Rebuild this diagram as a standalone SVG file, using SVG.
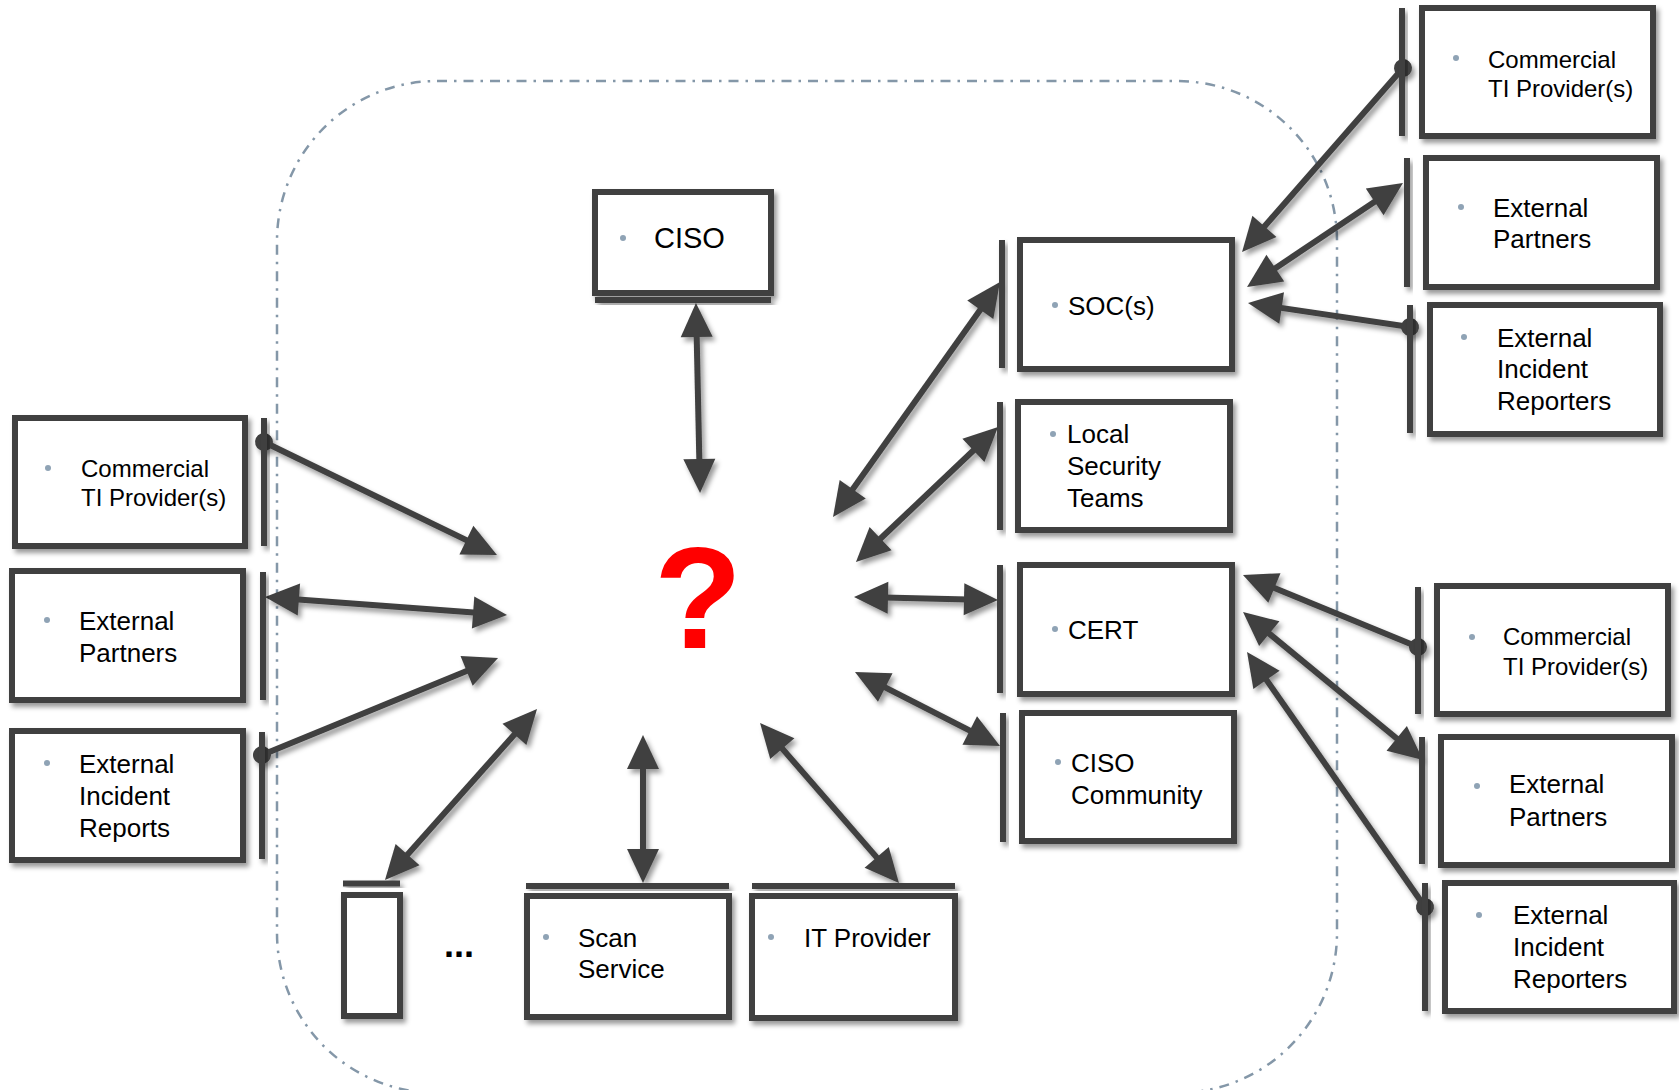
<svg xmlns="http://www.w3.org/2000/svg" width="1679" height="1090" viewBox="0 0 1679 1090">
  <style>
    .box { fill: #ffffff; stroke: #404040; stroke-width: 6; filter: url(#sh); }
    .bar { fill: #404040; filter: url(#sh); }
    .bul { fill: #8fa3b5; }
    .t { font-family: "Liberation Sans", Arial, sans-serif; font-size: 26px; fill: #000000; }
    .ts { font-size: 24px; }
    .tl { font-size: 29px; }
    .ln { fill: none; stroke: #404040; stroke-width: 6; }
    .two { marker-start: url(#head); marker-end: url(#head); }
    .one { marker-start: url(#dot); marker-end: url(#head); }
  </style>
  <defs>
    <filter id="sh" x="-50%" y="-20%" width="200%" height="140%">
      <feDropShadow dx="3" dy="4" stdDeviation="2.5" flood-color="#000000" flood-opacity="0.4"/>
    </filter>
    <marker id="head" markerUnits="userSpaceOnUse" markerWidth="34" markerHeight="32" refX="4" refY="16" orient="auto-start-reverse" overflow="visible">
      <path d="M0,0 L34,16 L0,32 Z" fill="#404040"/>
    </marker>
    <marker id="dot" markerUnits="userSpaceOnUse" markerWidth="20" markerHeight="20" refX="10" refY="10" orient="auto" overflow="visible">
      <circle cx="10" cy="10" r="9" fill="#404040"/>
    </marker>
  </defs>

  <rect width="1679" height="1090" fill="#ffffff"/>

  <!-- organisation boundary -->
  <rect id="boundary" x="277" y="81" width="1060" height="1012" rx="160" ry="160" fill="none" stroke="#8497a8" stroke-width="2.5" stroke-dasharray="10 7 2.5 7"/>

  <!-- centre -->
  <text id="unknown" x="698" y="648" text-anchor="middle" font-family="Liberation Sans, Arial, sans-serif" font-weight="bold" font-size="144" fill="#ff0000">?</text>

  <!-- connectors -->
  <g id="connectors" filter="url(#sh)">
    <path class="ln one" d="M264,442 L470.0,541.9"/>
    <path class="ln two" d="M294.9,599.2 L477.1,612.8"/>
    <path class="ln one" d="M262,755 L470.3,669.4"/>
    <path class="ln two" d="M404.9,857.6 L517.1,731.4"/>
    <path class="ln two" d="M643,853 L643,765"/>
    <path class="ln two" d="M879.3,860.4 L779.7,745.6"/>
    <path class="ln two" d="M696.6,333 L699.4,463"/>
    <path class="ln two" d="M850.4,492.5 L982.6,306.5"/>
    <path class="ln two" d="M877.7,541.3 L976.3,447.7"/>
    <path class="ln two" d="M884,597.6 L968,599.4"/>
    <path class="ln two" d="M881.7,685.6 L973.3,732.4"/>
    <path class="ln one" d="M1403,68 L1261.8,229.4"/>
    <path class="ln two" d="M1272,270.4 L1378,199.6"/>
    <path class="ln one" d="M1410,327 L1277.7,307.4"/>
    <path class="ln one" d="M1418,647 L1270.7,586.4"/>
    <path class="ln two" d="M1266.2,631.1 L1399.8,741"/>
    <path class="ln one" d="M1425,907 L1264.2,676.6"/>
  </g>

  <!-- left: external sources -->
  <g id="left-commercial-ti">
    <rect class="box" x="15" y="418" width="230" height="128"/>
    <rect class="bar" x="261" y="418" width="6" height="128"/>
    <circle class="bul" cx="48" cy="468" r="3"/>
    <text class="t ts" x="81" y="477">Commercial</text>
    <text class="t ts" x="81" y="506">TI Provider(s)</text>
  </g>
  <g id="left-external-partners">
    <rect class="box" x="12" y="571" width="231" height="129"/>
    <rect class="bar" x="260" y="572" width="6" height="128"/>
    <circle class="bul" cx="47" cy="620" r="3"/>
    <text class="t" x="79" y="630">External</text>
    <text class="t" x="79" y="662">Partners</text>
  </g>
  <g id="left-incident-reports">
    <rect class="box" x="12" y="731" width="231" height="129"/>
    <rect class="bar" x="259" y="732" width="6" height="127"/>
    <circle class="bul" cx="47" cy="763" r="3"/>
    <text class="t" x="79" y="773">External</text>
    <text class="t" x="79" y="805">Incident</text>
    <text class="t" x="79" y="837">Reports</text>
  </g>

  <!-- bottom: services -->
  <g id="unnamed-service">
    <rect class="box" x="344" y="895" width="56" height="121"/>
    <rect class="bar" x="343" y="880.5" width="57" height="6"/>
  </g>
  <text id="more" x="444" y="957" font-family="Liberation Sans, Arial, sans-serif" font-weight="bold" font-size="36" fill="#000000">...</text>
  <g id="scan-service">
    <rect class="box" x="527" y="896" width="202" height="121"/>
    <rect class="bar" x="526" y="883" width="203" height="6"/>
    <circle class="bul" cx="546" cy="937" r="3"/>
    <text class="t" x="578" y="947">Scan</text>
    <text class="t" x="578" y="978">Service</text>
  </g>
  <g id="it-provider">
    <rect class="box" x="752" y="896" width="203" height="122"/>
    <rect class="bar" x="752" y="883" width="203" height="6"/>
    <circle class="bul" cx="771" cy="937" r="3"/>
    <text class="t" x="804" y="947">IT Provider</text>
  </g>

  <!-- top: CISO -->
  <g id="ciso">
    <rect class="box" x="595" y="192" width="176" height="101"/>
    <rect class="bar" x="595" y="297" width="176" height="6"/>
    <circle class="bul" cx="623" cy="238" r="3"/>
    <text class="t tl" x="654" y="248">CISO</text>
  </g>

  <!-- right: internal teams -->
  <g id="soc">
    <rect class="box" x="1020" y="240" width="212" height="129"/>
    <rect class="bar" x="999" y="240" width="6" height="128"/>
    <circle class="bul" cx="1055" cy="305" r="3"/>
    <text class="t" x="1068" y="315">SOC(s)</text>
  </g>
  <g id="local-security-teams">
    <rect class="box" x="1018" y="402" width="212" height="128"/>
    <rect class="bar" x="997" y="402" width="6" height="128"/>
    <circle class="bul" cx="1053" cy="434" r="3"/>
    <text class="t" x="1067" y="443">Local</text>
    <text class="t" x="1067" y="475">Security</text>
    <text class="t" x="1067" y="507">Teams</text>
  </g>
  <g id="cert">
    <rect class="box" x="1020" y="565" width="212" height="129"/>
    <rect class="bar" x="997" y="565" width="6" height="128"/>
    <circle class="bul" cx="1055" cy="629" r="3"/>
    <text class="t" x="1068" y="639">CERT</text>
  </g>
  <g id="ciso-community">
    <rect class="box" x="1022" y="713" width="212" height="128"/>
    <rect class="bar" x="1000" y="713" width="6" height="129"/>
    <circle class="bul" cx="1058" cy="762" r="3"/>
    <text class="t" x="1071" y="772">CISO</text>
    <text class="t" x="1071" y="804">Community</text>
  </g>

  <!-- upper right: SOC sources -->
  <g id="soc-commercial-ti">
    <rect class="box" x="1422" y="8" width="231" height="128"/>
    <rect class="bar" x="1399" y="8" width="6" height="128"/>
    <circle class="bul" cx="1456" cy="58" r="3"/>
    <text class="t ts" x="1488" y="68">Commercial</text>
    <text class="t ts" x="1488" y="97">TI Provider(s)</text>
  </g>
  <g id="soc-external-partners">
    <rect class="box" x="1426" y="158" width="231" height="129"/>
    <rect class="bar" x="1404" y="158" width="6" height="129"/>
    <circle class="bul" cx="1461" cy="207" r="3"/>
    <text class="t" x="1493" y="217">External</text>
    <text class="t" x="1493" y="248">Partners</text>
  </g>
  <g id="soc-incident-reporters">
    <rect class="box" x="1430" y="305" width="230" height="129"/>
    <rect class="bar" x="1407" y="305" width="6" height="128"/>
    <circle class="bul" cx="1464" cy="337" r="3"/>
    <text class="t" x="1497" y="347">External</text>
    <text class="t" x="1497" y="378">Incident</text>
    <text class="t" x="1497" y="410">Reporters</text>
  </g>

  <!-- lower right: CERT sources -->
  <g id="cert-commercial-ti">
    <rect class="box" x="1437" y="586" width="231" height="128"/>
    <rect class="bar" x="1415" y="587" width="6" height="127"/>
    <circle class="bul" cx="1472" cy="637" r="3"/>
    <text class="t ts" x="1503" y="645">Commercial</text>
    <text class="t ts" x="1503" y="675">TI Provider(s)</text>
  </g>
  <g id="cert-external-partners">
    <rect class="box" x="1441" y="737" width="231" height="128"/>
    <rect class="bar" x="1419" y="737" width="6" height="127"/>
    <circle class="bul" cx="1477" cy="786" r="3"/>
    <text class="t" x="1509" y="793">External</text>
    <text class="t" x="1509" y="826">Partners</text>
  </g>
  <g id="cert-incident-reporters">
    <rect class="box" x="1445" y="883" width="229" height="128"/>
    <rect class="bar" x="1422" y="883" width="6" height="128"/>
    <circle class="bul" cx="1479" cy="915" r="3"/>
    <text class="t" x="1513" y="924">External</text>
    <text class="t" x="1513" y="956">Incident</text>
    <text class="t" x="1513" y="988">Reporters</text>
  </g>
</svg>
